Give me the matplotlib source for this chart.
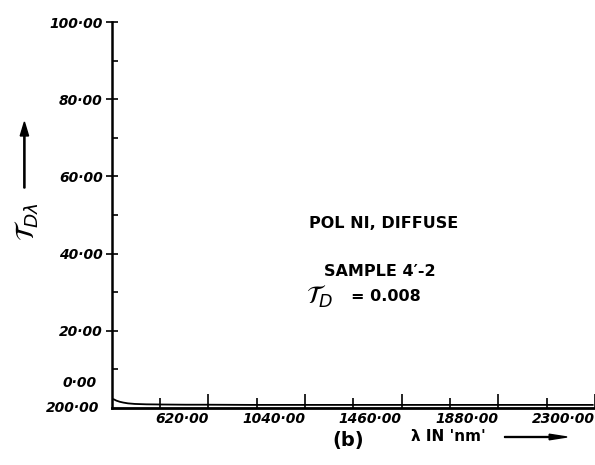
import matplotlib
matplotlib.use("Agg")
import matplotlib.pyplot as plt
from matplotlib.ticker import FixedLocator

# Spectral diffuse transmittance, sample 4'-2
wavelength = [200, 210, 220, 235, 250, 270, 300, 350, 420, 520, 620, 800, 1040,
              1250, 1460, 1670, 1880, 2090, 2290]
tau = [2.4, 2.2, 1.9, 1.6, 1.4, 1.2, 1.05, 0.95, 0.9, 0.85, 0.85, 0.8, 0.8,
       0.8, 0.8, 0.8, 0.8, 0.8, 0.8]

y_ticks = [20, 40, 60, 80, 100]
y_labels = ["20·00", "40·00", "60·00", "80·00", "100·00"]
y_minor = [10, 30, 50, 70, 90]
x_ticks = [620, 1040, 1460, 1880, 2300]
x_labels = ["620·00", "1040·00", "1460·00", "1880·00", "2300·00"]
x_minor = [410, 830, 1250, 1670, 2090]

tick_font = dict(family="DejaVu Sans", style="italic", weight="bold", size=10)

fig = plt.figure(figsize=(5.95, 4.65), dpi=100)
ax = fig.add_axes([0.188, 0.1226, 0.812, 0.83])

ax.plot(wavelength, tau, color="black", lw=1.3)

ax.set_xlim(200, 2290)
ax.set_ylim(0, 100)
for s in ["top", "right"]:
    ax.spines[s].set_visible(False)
ax.spines["left"].set_linewidth(1.8)
ax.spines["bottom"].set_linewidth(2.0)

ax.set_yticks(y_ticks)
ax.set_yticklabels(y_labels, fontdict=tick_font)
ax.yaxis.set_minor_locator(FixedLocator(y_minor))
ax.tick_params(axis="y", which="major", direction="inout", length=9, width=1.2, pad=2)
ax.tick_params(axis="y", which="minor", direction="in", length=4, width=1.2)

ax.set_xticks(x_ticks)
ax.set_xticklabels(x_labels, fontdict=tick_font, ha="right")
ax.xaxis.set_minor_locator(FixedLocator(x_minor))
ax.tick_params(axis="x", which="major", direction="in", length=10, width=1.2, pad=3)
ax.tick_params(axis="x", which="minor", direction="in", length=7, width=1.2)

# origin labels
ax.annotate("0·00", xy=(200, 0), xytext=(-11, 18), textcoords="offset points",
            ha="right", va="center", annotation_clip=False, **tick_font)
ax.annotate("200·00", xy=(200, 0), xytext=(-9, 0), textcoords="offset points",
            ha="right", va="center", annotation_clip=False, **tick_font)

# y axis title with arrow
fig.text(0.045, 1 - 222 / 465, r"$\mathcal{T}_{D\lambda}$", rotation=90, fontsize=19,
         ha="center", va="center")
fig.patches.append(matplotlib.patches.FancyArrow(
    0.041, 1 - 188 / 465, 0, (188 - 122) / 465, width=0.002, head_width=0.014,
    head_length=0.03, length_includes_head=True, color="black",
    transform=fig.transFigure, figure=fig))

# annotation block
note = dict(family="DejaVu Sans", weight="bold", size=11.5)
fig.text(0.52, 1 - 223 / 465, "POL NI, DIFFUSE", va="center", **note)
fig.text(0.545, 1 - 272 / 465, "SAMPLE 4\u2032-2", va="center", **note)
fig.text(0.515, 1 - 297 / 465, r"$\mathcal{T}_D$", va="center", fontsize=18)
fig.text(0.59, 1 - 296 / 465, "= 0.008", va="center", **note)

# x axis title
fig.text(0.585, 1 - 440 / 465, "(b)", ha="center", va="center",
         family="DejaVu Sans", weight="bold", size=14)
fig.text(0.69, 1 - 436 / 465, "λ IN 'nm'", ha="left", va="center",
         family="DejaVu Sans", weight="bold", size=11)
fig.patches.append(matplotlib.patches.FancyArrow(
    0.848, 1 - 437 / 465, 0.105, 0, width=0.002, head_width=0.012,
    head_length=0.03, length_includes_head=True, color="black",
    transform=fig.transFigure, figure=fig))

fig.savefig("out.png", dpi=100)
